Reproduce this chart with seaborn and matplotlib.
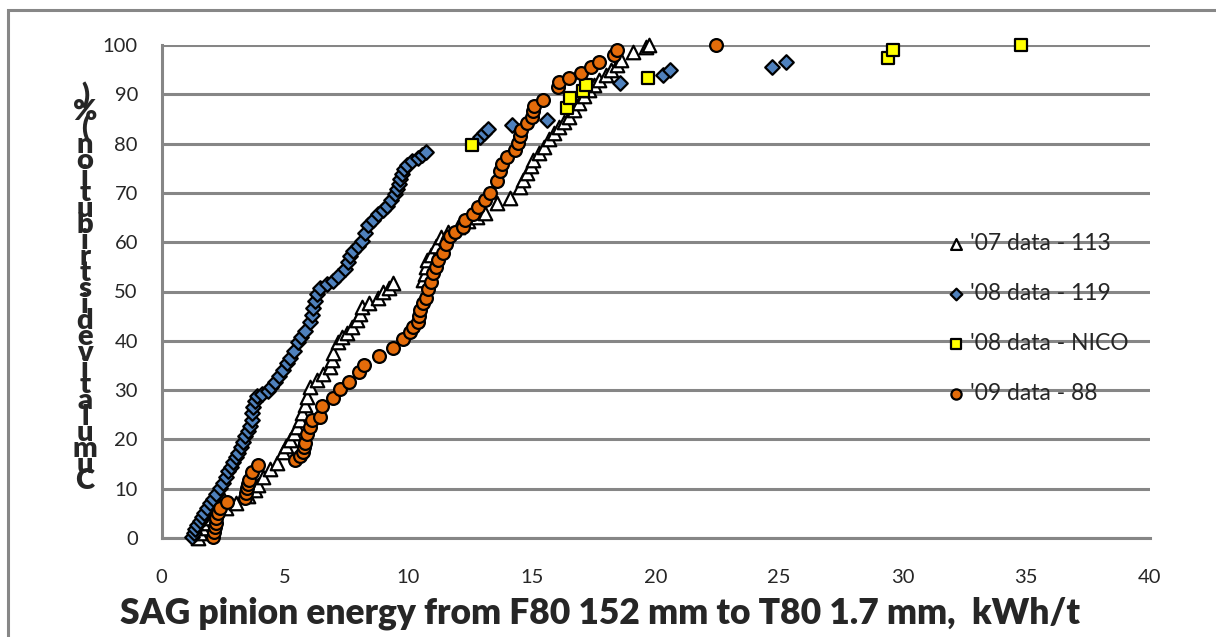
import matplotlib
matplotlib.use("Agg")
import matplotlib.pyplot as plt
import seaborn as sns
from matplotlib.patches import Rectangle

# '07 data - 113 (white triangles)
x07 = [1.48, 1.55, 1.62, 1.70, 1.80, 1.90, 2.00, 2.10, 2.25, 2.40, 2.60, 3.00, 3.50, 3.80,
       3.90, 4.10, 4.40, 4.67, 4.92, 5.05, 5.20, 5.35, 5.48, 5.60, 5.69, 5.80, 5.89, 6.00,
       6.30, 6.55, 6.82, 6.90, 6.95, 7.15, 7.30, 7.50, 7.70, 7.90, 8.04, 8.10, 8.40, 8.77,
       8.97, 9.20, 9.37, 10.60, 10.65, 10.70, 10.75, 10.90, 11.10, 11.30, 11.60, 12.00,
       12.40, 12.77, 13.10, 13.57, 14.10, 14.50, 14.65, 14.80, 14.95, 15.05, 15.30, 15.47,
       15.70, 15.90, 16.10, 16.30, 16.50, 16.70, 16.90, 17.10, 17.30, 17.50, 17.70, 18.00,
       18.20, 18.45, 18.60, 19.10, 19.60, 19.75]
y07 = [0.0, 1.0, 2.0, 3.0, 4.0, 5.0, 6.0, 7.0, 8.0, 9.0, 6.0, 7.0, 8.5, 9.8,
       10.8, 12.4, 14.0, 15.2, 17.5, 18.7, 19.9, 21.2, 22.6, 24.0, 25.3, 27.0, 28.6, 30.6,
       32.0, 33.3, 34.7, 36.2, 37.5, 39.8, 40.7, 41.6, 42.9, 44.2, 45.5, 46.9, 47.6, 48.6,
       50.0, 50.8, 51.7, 52.3, 53.6, 55.0, 56.4, 57.5, 59.2, 61.0, 62.0, 63.0,
       64.2, 65.1, 66.0, 67.9, 69.0, 71.2, 72.6, 74.0, 75.4, 76.7, 78.0, 79.3,
       81.0, 82.2, 83.4, 84.4, 85.4, 86.8, 88.2, 89.6, 90.9, 91.9, 92.9, 94.0,
       95.0, 96.0, 97.0, 98.6, 99.6, 100.0]

# '08 data - 119 (blue diamonds)
x08 = [1.23, 1.30, 1.36, 1.45, 1.55, 1.64, 1.72, 1.84, 1.95, 2.09, 2.20, 2.37, 2.50, 2.60,
       2.69, 2.80, 2.89, 3.00, 3.10, 3.20, 3.30, 3.40, 3.50, 3.58, 3.66, 3.68, 3.70, 3.78,
       3.87, 4.05, 4.31, 4.45, 4.60, 4.75, 4.90, 5.08, 5.20, 5.35, 5.53, 5.65, 5.80, 6.01,
       6.08, 6.13, 6.22, 6.30, 6.42, 6.70, 6.94, 7.15, 7.43, 7.55, 7.65, 7.75, 7.95, 8.12,
       8.22, 8.36, 8.55, 8.77, 8.95, 9.13, 9.30, 9.45, 9.54, 9.60, 9.66, 9.72, 9.80, 9.95,
       10.14, 10.38, 10.55, 10.71, 12.90, 13.05, 13.20, 14.20, 15.60, 18.56, 20.30, 20.60,
       24.70, 25.30]
y08 = [0.2, 1.0, 1.8, 2.6, 3.4, 4.2, 5.0, 6.0, 7.0, 8.0, 9.0, 10.2, 11.2, 12.4,
       13.6, 14.5, 15.4, 16.4, 17.3, 18.4, 19.5, 20.6, 21.7, 22.8, 24.0, 25.3, 26.6, 27.8,
       28.8, 29.2, 29.8, 30.6, 31.7, 32.8, 34.0, 35.5, 36.5, 38.0, 39.8, 40.8, 42.0, 43.8,
       45.2, 46.6, 48.0, 49.5, 50.8, 51.6, 52.2, 53.2, 54.6, 56.0, 57.2, 58.2, 59.2, 60.2,
       61.8, 63.4, 64.6, 65.8, 66.6, 67.4, 68.6, 69.8, 70.8, 71.8, 72.8, 73.8, 74.8, 75.6,
       76.4, 77.0, 77.6, 78.2, 81.3, 82.2, 83.0, 83.8, 84.8, 92.3, 94.0, 95.0,
       95.6, 96.6]

# '08 data - NICO (yellow squares)
xnico = [12.57, 16.40, 16.55, 17.07, 17.20, 19.70, 29.40, 29.60, 34.80]
ynico = [79.7, 87.2, 89.2, 90.7, 91.8, 93.3, 97.4, 99.0, 100.0]

# '09 data - 88 (orange circles)
x09 = [2.09, 2.13, 2.17, 2.20, 2.22, 2.30, 2.37, 2.65, 3.38, 3.42, 3.46, 3.50, 3.55, 3.66,
       3.90, 5.40, 5.60, 5.73, 5.78, 5.80, 5.90, 6.00, 6.10, 6.40, 6.50, 6.95, 7.23, 7.60,
       8.00, 8.20, 8.80, 9.37, 9.78, 10.06, 10.20, 10.38, 10.42, 10.46, 10.60, 10.70, 10.80,
       10.90, 11.00, 11.10, 11.20, 11.40, 11.50, 11.70, 11.90, 12.20, 12.30, 12.60, 12.80,
       13.10, 13.30, 13.60, 13.70, 13.80, 14.00, 14.30, 14.45, 14.50, 14.55, 14.80, 15.00,
       15.05, 15.10, 15.45, 16.07, 16.10, 16.50, 17.00, 17.40, 17.70, 18.30, 18.45, 22.45]
y09 = [0.2, 1.2, 2.2, 3.1, 4.0, 5.0, 6.0, 7.3, 8.1, 9.1, 10.1, 11.0, 11.8, 13.4,
       14.8, 15.8, 16.6, 17.4, 18.4, 19.3, 21.0, 22.6, 24.0, 24.6, 26.8, 28.4, 30.2, 31.6,
       33.6, 35.0, 37.0, 38.5, 40.4, 41.8, 42.8, 43.8, 45.0, 46.2, 47.6, 48.6, 50.5,
       52.0, 53.7, 55.0, 56.4, 57.8, 59.6, 61.3, 62.0, 63.0, 64.6, 65.8, 67.2,
       68.6, 70.0, 72.4, 74.4, 75.8, 77.2, 78.7, 80.2, 81.5, 82.8, 84.2, 85.4,
       86.6, 87.6, 88.8, 91.5, 92.5, 93.3, 94.3, 95.5, 96.5, 98.0, 99.0, 100.0]

x_ticks = [0, 5, 10, 15, 20, 25, 30, 35, 40]
y_ticks = [0, 10, 20, 30, 40, 50, 60, 70, 80, 90, 100]
x_label = "SAG pinion energy from F80 152 mm to T80 1.7 mm,  kWh/t"
y_label = "Cumulative distribution (%)"

W, H = 1216, 637
GRID = "#868686"

sns.set_theme(style="white")
plt.rcParams['font.family'] = ['Lato', 'DejaVu Sans']

fig = plt.figure(figsize=(W / 100, H / 100), dpi=100)
ax = fig.add_axes([161.5 / W, 1 - 538 / H, (1149.5 - 161.5) / W, (538 - 45) / H])

series = [
    ("'07 data - 113", x07, y07, "^", "white", 95),
    ("'08 data - 119", x08, y08, "D", "#4F81BD", 55),
    ("'08 data - NICO", xnico, ynico, "s", "#FFFF00", 85),
    ("'09 data - 88", x09, y09, "o", "#E46C0A", 85),
]
for name, xs, ys, mk, col, size in series:
    sns.scatterplot(x=xs, y=ys, ax=ax, marker=mk, color=col, s=size,
                    edgecolor="black", linewidth=1.6, label=name,
                    zorder=3, clip_on=False)

ax.set_xlim(0, 40)
ax.set_ylim(0, 100)
ax.set_xticks(x_ticks)
ax.set_yticks(y_ticks)
ax.yaxis.grid(True, color=GRID, lw=2.2)
ax.xaxis.grid(False)
for side in ["top", "right"]:
    ax.spines[side].set_visible(False)
for side in ["left", "bottom"]:
    ax.spines[side].set_color(GRID)
    ax.spines[side].set_linewidth(2.2)
ax.tick_params(axis="y", direction="out", length=8, width=2.2, color=GRID,
               labelsize=14.5, pad=9)
ax.tick_params(axis="x", direction="out", length=6, width=2.2, color=GRID,
               labelsize=14.5, pad=16)
ax.set_xlabel("")
ax.set_ylabel("")

ax.legend(loc="upper left", bbox_to_anchor=(945 / W, 1 - 233 / H),
          bbox_transform=fig.transFigure, frameon=False, fontsize=16.5,
          labelspacing=1.26, handletextpad=0.1, markerscale=0.8,
          handlelength=1.0, borderaxespad=0, borderpad=0)

fig.text(600 / W, 1 - 613 / H, x_label, ha="center", va="center",
         fontsize=25.5, fontweight="heavy")

# stacked y label: letters upright, reading from the bottom up (spaces take no room)
stacked = "\n".join(ch for ch in reversed(y_label) if ch != " ")
fig.text(85 / W, 1 - 288 / H, stacked, ha="center", va="center",
         multialignment="center", fontsize=21, fontweight="heavy", linespacing=0.525)

fig.add_artist(Rectangle((8 / W, -0.1), 1.2, 1.1 - 10 / H, transform=fig.transFigure,
                         fill=False, edgecolor="#878787", lw=2.2))

fig.savefig("out.png", dpi=100)
